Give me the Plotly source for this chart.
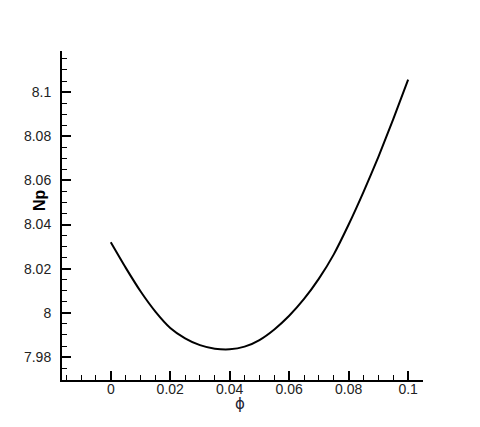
import plotly.graph_objects as go

# phi values and Np
phi = [0.0, 0.005, 0.01, 0.015, 0.02, 0.025, 0.03, 0.035, 0.04, 0.045, 0.05,
       0.055, 0.06, 0.065, 0.07, 0.075, 0.08, 0.085, 0.09, 0.095, 0.1]
np_vals = [8.032, 8.0205, 8.0098, 8.0006, 7.9932, 7.9885, 7.9854, 7.9838, 7.9835, 7.9847, 7.9877,
           7.9925, 7.9987, 8.0063, 8.0155, 8.0265, 8.040, 8.0548, 8.0707, 8.0877, 8.1056]

x_ticks = [0, 0.02, 0.04, 0.06, 0.08, 0.1]
x_labels = ["0", "0.02", "0.04", "0.06", "0.08", "0.1"]
y_ticks = [7.98, 8.0, 8.02, 8.04, 8.06, 8.08, 8.1]
y_labels = ["7.98", "8", "8.02", "8.04", "8.06", "8.08", "8.1"]

fig = go.Figure()
fig.add_trace(go.Scatter(x=phi, y=np_vals, mode="lines",
                         line=dict(color="black", width=2, shape="spline", smoothing=0.5),
                         showlegend=False))

axis_common = dict(
    showline=True, linecolor="black", linewidth=2, mirror=False,
    showgrid=False, zeroline=False, automargin=False,
    ticks="inside", ticklen=9, tickwidth=2, tickcolor="black",
    tickfont=dict(family="Liberation Sans, Arial", size=14, color="#222"),
)

# the page body adds an 8px offset, so the figure is a little smaller than the window
fig.update_layout(
    width=472, height=419,
    margin=dict(l=54, r=57, t=43, b=47),
    paper_bgcolor="white", plot_bgcolor="white",
    font=dict(family="Liberation Sans, Arial", color="black"),
    xaxis=dict(
        range=[-0.0164, 0.105], tickmode="array", tickvals=x_ticks, ticktext=x_labels,
        minor=dict(dtick=0.005, tick0=0, ticks="inside", ticklen=5, tickwidth=1, tickcolor="black"),
        ticklabelstandoff=-5,
        **axis_common,
    ),
    yaxis=dict(
        range=[7.9696, 8.1186], tickmode="array", tickvals=y_ticks, ticktext=y_labels,
        minor=dict(dtick=0.005, tick0=8.0, ticks="inside", ticklen=5, tickwidth=1, tickcolor="black"),
        ticklabelstandoff=6,
        **axis_common,
    ),
    annotations=[
        dict(text="ϕ", xref="paper", yref="paper", x=0.493, y=-0.073,
             xanchor="center", yanchor="middle",
             showarrow=False, font=dict(size=15, family="DejaVu Sans", color="#223")),
        dict(text="<b>Np</b>", xref="paper", yref="paper", x=-0.064, y=0.547,
             xanchor="center", yanchor="middle",
             textangle=-90, showarrow=False, font=dict(size=16)),
    ],
)

fig.write_html("out.html")
